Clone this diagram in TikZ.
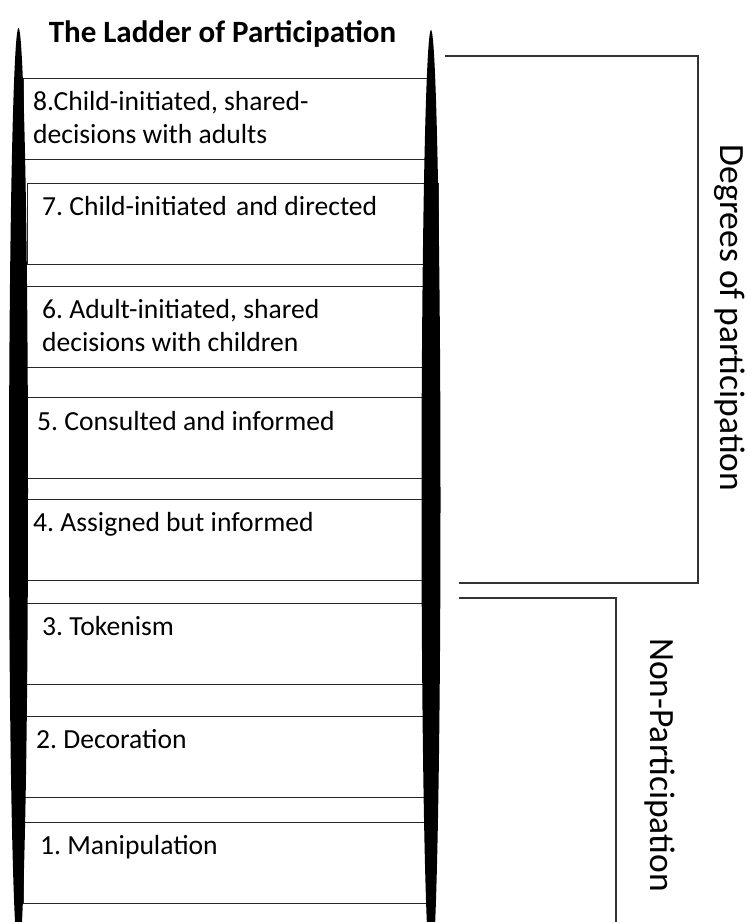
\documentclass[tikz,border=0pt]{standalone}
\usepackage{fontspec}
\setmainfont{Carlito}
\frenchspacing
\begin{document}
\begin{tikzpicture}[x=1pt,y=-1pt,
	rung/.style={draw=black!85,line width=1.2pt,minimum width=404pt,minimum height=81pt,anchor=north west,inner sep=0pt},
	rungtext/.style={anchor=base west,align=left,inner sep=0pt,font=\fontsize{27.6}{33}\selectfont},
	sidetext/.style={anchor=base,rotate=-90,inner sep=0pt,font=\fontsize{35.5}{40}\selectfont}]
	\useasboundingbox (0,0) rectangle (747,922);
	\clip (0,0) rectangle (747,922);
	% rungs
	\node[rung] (r8) at (23,78) {};
	\node[rung,minimum width=411pt] (r7) at (27,183) {};
	\node[rung] (r6) at (24,286) {};
	\node[rung] (r5) at (24,397) {};
	\node[rung] (r4) at (24,499) {};
	\node[rung] (r3) at (25,603) {};
	\node[rung] (r2) at (24,716) {};
	\node[rung] (r1) at (23,822) {};
	% rails
	\fill (18.5,491) ellipse (9.5 and 463);
	\fill (431,500) ellipse (9.5 and 470);
	% texts (base of a two-line node is its last line)
	\node[font=\bfseries\fontsize{31}{36}\selectfont,anchor=base,inner sep=0pt] (title) at (222.5,42) {The Ladder of Participation};
	\node[rungtext] (t8) at (33,143) {8.Child-initiated, shared-\\decisions with adults};
	\node[rungtext] (t7) at (42,215) {7. Child-initiated\hspace{3pt} and directed};
	\node[rungtext] (t6) at (42,351) {6. Adult-initiated, shared\\decisions with children};
	\node[rungtext] (t5) at (37,430) {5. Consulted and informed};
	\node[rungtext] (t4) at (33,531) {4. Assigned but informed};
	\node[rungtext] (t3) at (42,635) {3. Tokenism};
	\node[rungtext] (t2) at (36,748) {2. Decoration};
	\node[rungtext] (t1) at (40,854) {1. Manipulation};
	% brackets
	\draw[black!80,line width=1.2pt] (445,56) -- (698,56) -- (698,583) -- (459,583);
	\draw[black!80,line width=1.2pt] (459,598) -- (616,598) -- (616,930);
	\node[sidetext] (degrees) at (720,318) {Degrees of participation};
	\node[sidetext] (nonpart) at (650,765) {Non-Participation};
\end{tikzpicture}
\end{document}
